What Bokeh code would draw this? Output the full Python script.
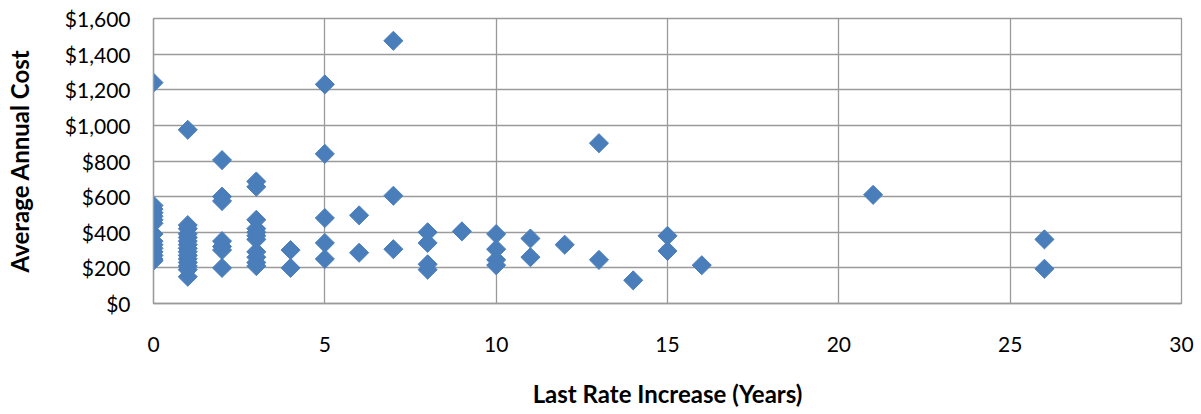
import numpy as np
from bokeh.plotting import figure
from bokeh.models import ColumnDataSource, NumeralTickFormatter, FixedTicker, Range1d
from bokeh.embed import file_html
from bokeh.resources import INLINE

# Data
years_0 = [0] * 15
cost_0 = [1240, 550, 530, 510, 490, 470, 450, 390, 350, 330, 310, 290, 270, 250, 240]
years_1 = [1] * 15
cost_1 = [975, 440, 420, 390, 370, 350, 330, 310, 290, 270, 250, 230, 210, 190, 150]
years_2 = [2] * 7
cost_2 = [805, 600, 575, 350, 320, 300, 200]
years_3 = [3] * 11
cost_3 = [685, 655, 470, 420, 400, 380, 360, 290, 260, 230, 210]
years_rest = [4, 4, 5, 5, 5, 5, 5, 6, 6, 7, 7, 7, 8, 8, 8, 8, 9, 10, 10, 10, 10,
              11, 11, 12, 13, 13, 14, 15, 15, 16, 21, 26, 26]
cost_rest = [300, 200, 1230, 840, 480, 340, 250, 495, 285, 1475, 605, 305,
             400, 340, 220, 190, 405, 390, 305, 245, 215, 365, 260, 330,
             900, 245, 130, 380, 295, 215, 610, 360, 195]

x_ticks = [0, 5, 10, 15, 20, 25, 30]
y_ticks = [0, 200, 400, 600, 800, 1000, 1200, 1400, 1600]

years = years_0 + years_1 + years_2 + years_3 + years_rest
cost = cost_0 + cost_1 + cost_2 + cost_3 + cost_rest
src = ColumnDataSource(dict(x=years, y=cost))

FONT = "Lato"
GRID = "#9a9a9a"

p = figure(width=1198, height=410, output_backend="svg", toolbar_location=None,
           x_range=Range1d(0, 30), y_range=Range1d(0, 1600),
           min_border_left=153, min_border_right=17, min_border_top=18,
           min_border_bottom=107)

p.scatter("x", "y", source=src, marker="square", angle=np.pi / 4, size=13.5,
          fill_color="#4A7EBB", line_color="#4A7EBB")

p.xaxis.ticker = FixedTicker(ticks=x_ticks)
p.yaxis.ticker = FixedTicker(ticks=y_ticks)
p.yaxis.formatter = NumeralTickFormatter(format="$0,0")

for ax in (p.xaxis[0], p.yaxis[0]):
    ax.axis_line_color = GRID
    ax.axis_line_width = 1.3
    ax.major_tick_line_color = None
    ax.minor_tick_line_color = None
    ax.major_label_text_font = FONT
    ax.major_label_text_font_size = "21px"
    ax.major_label_text_color = "#000000"
    ax.axis_label_text_font = FONT
    ax.axis_label_text_font_size = "24px"
    ax.axis_label_text_font_style = "bold"
    ax.axis_label_text_color = "#000000"

p.xaxis.axis_label = "Last Rate Increase (Years)"
p.yaxis.axis_label = "Average Annual Cost"
p.xaxis.major_label_standoff = 27
p.xaxis.axis_label_standoff = 24
p.yaxis.major_label_standoff = 17
p.yaxis.axis_label_standoff = 28

p.xgrid.grid_line_color = GRID
p.ygrid.grid_line_color = GRID
p.xgrid.grid_line_width = 1.3
p.ygrid.grid_line_width = 1.3
p.outline_line_color = GRID
p.outline_line_width = 1.3
p.background_fill_color = "white"
p.border_fill_color = "white"

open("out.html", "w").write(file_html(p, INLINE))
